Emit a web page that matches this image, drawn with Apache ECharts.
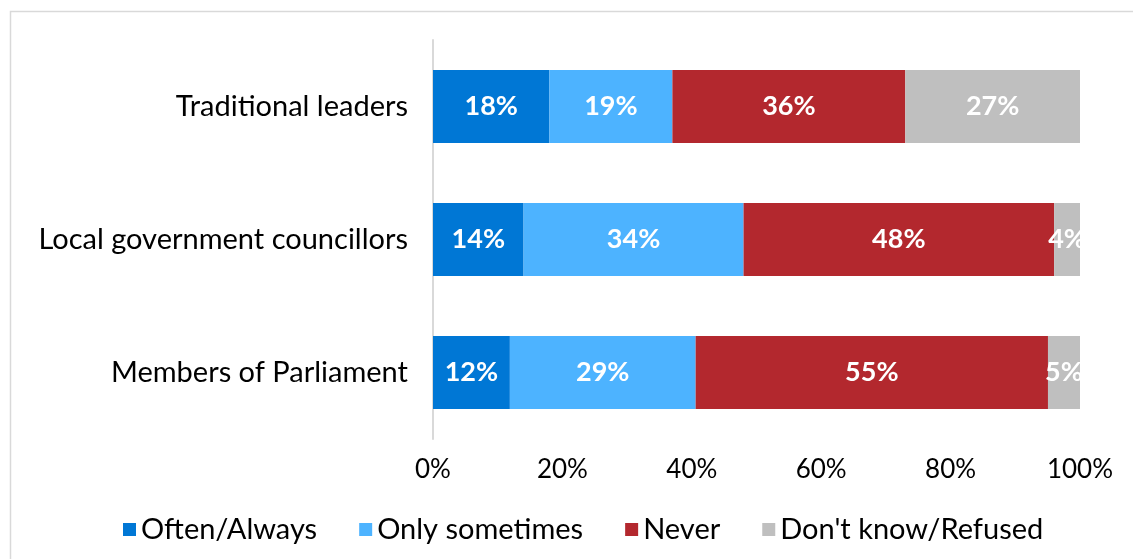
<!DOCTYPE html>
<html>
<head>
<meta charset="utf-8">
<script src="https://cdn.jsdelivr.net/npm/echarts@6/dist/echarts.min.js"></script>
<style>
  html, body { margin: 0; padding: 0; background: #fff; }
  #chart { width: 1133px; height: 559px; }
</style>
</head>
<body>
<div id="chart"></div>
<script>
// Survey rows, top to bottom
const categories = ['Traditional leaders', 'Local government councillors', 'Members of Parliament'];
const seriesNames = ['Often/Always', 'Only sometimes', 'Never', "Don't know/Refused"];
// Percentages per response, in the same row order as categories
const oftenAlways = [18, 14, 12];
const onlySometimes = [19, 34, 29];
const never = [36, 48, 55];
const dontKnow = [27, 4, 5];
const xTickLabels = ['0%', '20%', '40%', '60%', '80%', '100%'];

const colors = ['#0077D5', '#4DB3FF', '#B3282E', '#BFBFBF'];
const FONT = 'Lato';

const rows = [oftenAlways, onlySometimes, never, dontKnow];
// Each bar fills the full width: segments are shares of the row total
const totals = categories.map((_, i) => rows.reduce((s, r) => s + r[i], 0));

const series = rows.map((vals, k) => ({
  name: seriesNames[k],
  type: 'bar',
  stack: 'total',
  barWidth: '55%',
  itemStyle: { color: colors[k] },
  label: {
    show: true,
    position: 'inside',
    color: '#fff',
    fontFamily: FONT,
    fontWeight: 'bold',
    fontSize: 27,
    formatter: p => vals[p.dataIndex] + '%'
  },
  data: vals.map((v, i) => v / totals[i] * 100)
}));

const chart = echarts.init(document.getElementById('chart'));
chart.setOption({
  animation: false,
  color: colors,
  graphic: [{
    type: 'rect',
    shape: { x: 10.5, y: 11.5, width: 1200, height: 700 },
    style: { fill: 'none', stroke: '#D9D9D9', lineWidth: 1.5 },
    silent: true, z: -1
  }],
  grid: { left: 433, right: 53, top: 40, bottom: 120 },
  xAxis: {
    type: 'value',
    min: 0, max: 100, interval: 20,
    axisLine: { show: false },
    axisTick: { show: false },
    splitLine: { show: false },
    axisLabel: {
      margin: 18,
      color: '#000',
      fontFamily: FONT,
      fontSize: 26,
      formatter: v => xTickLabels[Math.round(v / 20)]
    }
  },
  yAxis: {
    type: 'category',
    inverse: true,
    data: categories,
    axisLine: { show: true, lineStyle: { color: '#D9D9D9', width: 2 } },
    axisTick: { show: false },
    axisLabel: { margin: 25, color: '#000', fontFamily: FONT, fontSize: 29 }
  },
  legend: {
    top: 510,
    left: 118,
    itemWidth: 13,
    itemHeight: 13,
    itemGap: 42,
    icon: 'rect',
    textStyle: { color: '#000', fontFamily: FONT, fontSize: 29 },
    data: seriesNames
  },
  series
});
</script>
</body>
</html>
